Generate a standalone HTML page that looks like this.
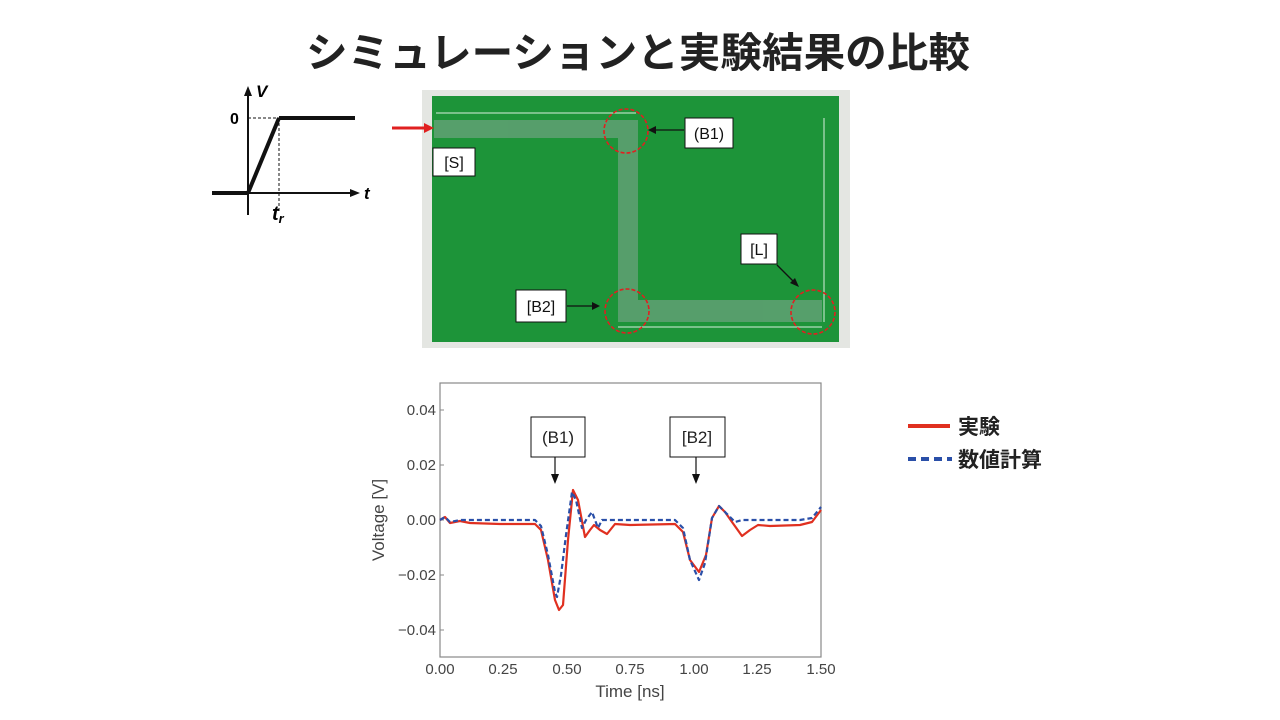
<!DOCTYPE html>
<html><head><meta charset="utf-8"><style>
html,body{margin:0;padding:0;background:#fff;width:1280px;height:720px;overflow:hidden}
svg{display:block}
text{font-family:"Liberation Sans","Noto Sans CJK JP",sans-serif}
</style></head><body>
<svg width="1280" height="720" viewBox="0 0 1280 720" xmlns="http://www.w3.org/2000/svg">
<text x="638" y="67" text-anchor="middle" font-size="41" font-weight="bold" fill="#222" font-family="'Noto Sans CJK JP',sans-serif" textLength="664" lengthAdjust="spacingAndGlyphs">シミュレーションと実験結果の比較</text>

<!-- step diagram -->
<g stroke="#111" fill="none">
<line x1="248" y1="215" x2="248" y2="92" stroke-width="2"/>
<line x1="212" y1="193" x2="352" y2="193" stroke-width="2"/>
<line x1="212" y1="193" x2="248" y2="193" stroke-width="4"/>
<line x1="248" y1="193" x2="279" y2="118" stroke-width="4"/>
<line x1="279" y1="118" x2="355" y2="118" stroke-width="4"/>
<line x1="248" y1="118" x2="279" y2="118" stroke-width="1" stroke-dasharray="3,2"/>
<line x1="279" y1="118" x2="279" y2="212" stroke-width="1" stroke-dasharray="3,2"/>
</g>
<polygon points="248,86 244,96 252,96" fill="#111"/>
<polygon points="360,193 350,189 350,197" fill="#111"/>
<text x="256" y="97" font-size="17" font-style="italic" font-weight="bold" font-family="'Liberation Serif',serif">V</text>
<text x="230" y="124" font-size="16" font-weight="bold" font-family="'Liberation Serif',serif">0</text>
<text x="364" y="199" font-size="17" font-style="italic" font-weight="bold" font-family="'Liberation Serif',serif">t</text>
<text x="272" y="220" font-size="20" font-style="italic" font-weight="bold" font-family="'Liberation Serif',serif">t<tspan font-size="13" dy="3">r</tspan></text>

<!-- PCB -->
<rect x="422" y="90" width="428" height="258" fill="#e4e6e2"/>
<rect x="432" y="96" width="407" height="246" fill="#1d9439"/>
<g fill="#5a9f6e" opacity="0.95">
<rect x="434" y="120" width="204" height="18"/>
<rect x="618" y="120" width="20" height="202"/>
<rect x="618" y="300" width="204" height="22"/>
</g>
<g stroke="#d6eedd" stroke-width="1" fill="none">
<line x1="436" y1="113" x2="636" y2="113"/>
<line x1="618" y1="327" x2="822" y2="327"/>
<line x1="824" y1="118" x2="824" y2="322"/>
</g>
<g stroke="#e02020" stroke-width="1.6" fill="none" stroke-dasharray="4,2">
<circle cx="626" cy="131" r="22"/>
<circle cx="627" cy="311" r="22"/>
<circle cx="813" cy="312" r="22"/>
</g>
<line x1="392" y1="128" x2="426" y2="128" stroke="#e02020" stroke-width="3"/>
<polygon points="434,128 424,123 424,133" fill="#e02020"/>
<g stroke="#111" stroke-width="1" fill="#fff">
<rect x="685" y="118" width="48" height="30"/>
<rect x="433" y="148" width="42" height="28"/>
<rect x="741" y="234" width="36" height="30"/>
<rect x="516" y="290" width="50" height="32"/>
</g>
<g font-size="16" fill="#111">
<text x="709" y="139" text-anchor="middle">(B1)</text>
<text x="454" y="168" text-anchor="middle">[S]</text>
<text x="759" y="255" text-anchor="middle">[L]</text>
<text x="541" y="312" text-anchor="middle">[B2]</text>
</g>
<g stroke="#111" stroke-width="1.3">
<line x1="684" y1="130" x2="654" y2="130"/>
<line x1="567" y1="306" x2="594" y2="306"/>
<line x1="777" y1="265" x2="794" y2="282"/>
</g>
<polygon points="648,130 656,126 656,134" fill="#111"/>
<polygon points="600,306 592,302 592,310" fill="#111"/>
<polygon points="799,287 790,283 795,278" fill="#111"/>

<!-- plot -->
<rect x="440" y="383" width="381" height="274" fill="#fff" stroke="#888" stroke-width="1.2"/>
<g stroke="#888" stroke-width="1">
<line x1="440" y1="410" x2="444" y2="410"/><line x1="440" y1="465" x2="444" y2="465"/>
<line x1="440" y1="520" x2="444" y2="520"/><line x1="440" y1="575" x2="444" y2="575"/>
<line x1="440" y1="630" x2="444" y2="630"/>
</g>
<g font-size="15" fill="#444" text-anchor="end">
<text x="436" y="415">0.04</text>
<text x="436" y="470">0.02</text>
<text x="436" y="525">0.00</text>
<text x="436" y="580">−0.02</text>
<text x="436" y="635">−0.04</text>
</g>
<g font-size="15" fill="#444" text-anchor="middle">
<text x="440" y="674">0.00</text><text x="503" y="674">0.25</text>
<text x="567" y="674">0.50</text><text x="630" y="674">0.75</text>
<text x="694" y="674">1.00</text><text x="757" y="674">1.25</text>
<text x="821" y="674">1.50</text>
<text x="630" y="697" font-size="17">Time [ns]</text>
</g>
<text transform="translate(384,520) rotate(-90)" font-size="17" fill="#444" text-anchor="middle">Voltage [V]</text>

<path d="M440,520 L445,517 L450,523 L460,521 L470,523 L500,524 L535,524 L541,530 L548,560 L555,600 L559,610 L563,605 L568,540 L573,490 L578,500 L585,537 L590,530 L594,525 L600,530 L607,534 L615,524 L630,525 L675,524 L683,532 L690,560 L699,572 L706,555 L712,518 L719,506 L725,512 L732,522 L742,536 L750,530 L758,525 L770,526 L800,525 L812,522 L821,510" fill="none" stroke="#e03020" stroke-width="2.2" stroke-linejoin="round"/>
<path d="M440,520 L445,517 L450,522 L460,520 L470,520 L500,520 L535,520 L541,526 L548,555 L555,592 L557,597 L561,575 L566,535 L572,492 L576,500 L582,528 L586,520 L592,512 L598,528 L602,520 L612,520 L675,520 L683,528 L690,560 L699,580 L705,563 L712,518 L719,506 L725,512 L735,522 L742,520 L760,520 L800,520 L812,518 L821,507" fill="none" stroke="#2a4fa8" stroke-width="2.2" stroke-dasharray="5,3" stroke-linejoin="round"/>

<g stroke="#111" stroke-width="1" fill="#fff">
<rect x="531" y="417" width="54" height="40"/>
<rect x="670" y="417" width="55" height="40"/>
</g>
<g font-size="17" fill="#222" text-anchor="middle">
<text x="558" y="443">(B1)</text>
<text x="697" y="443">[B2]</text>
</g>
<g stroke="#111" stroke-width="1.2">
<line x1="555" y1="457" x2="555" y2="476"/>
<line x1="696" y1="457" x2="696" y2="476"/>
</g>
<polygon points="555,484 551,474 559,474" fill="#111"/>
<polygon points="696,484 692,474 700,474" fill="#111"/>

<!-- legend -->
<line x1="908" y1="426" x2="950" y2="426" stroke="#e03020" stroke-width="4"/>
<line x1="908" y1="459" x2="952" y2="459" stroke="#2a4fa8" stroke-width="4" stroke-dasharray="8,5"/>
<text x="958" y="434" font-size="21" font-weight="bold" fill="#222" font-family="'Noto Sans CJK JP',sans-serif">実験</text>
<text x="958" y="467" font-size="21" font-weight="bold" fill="#222" font-family="'Noto Sans CJK JP',sans-serif">数値計算</text>
</svg>
</body></html>
